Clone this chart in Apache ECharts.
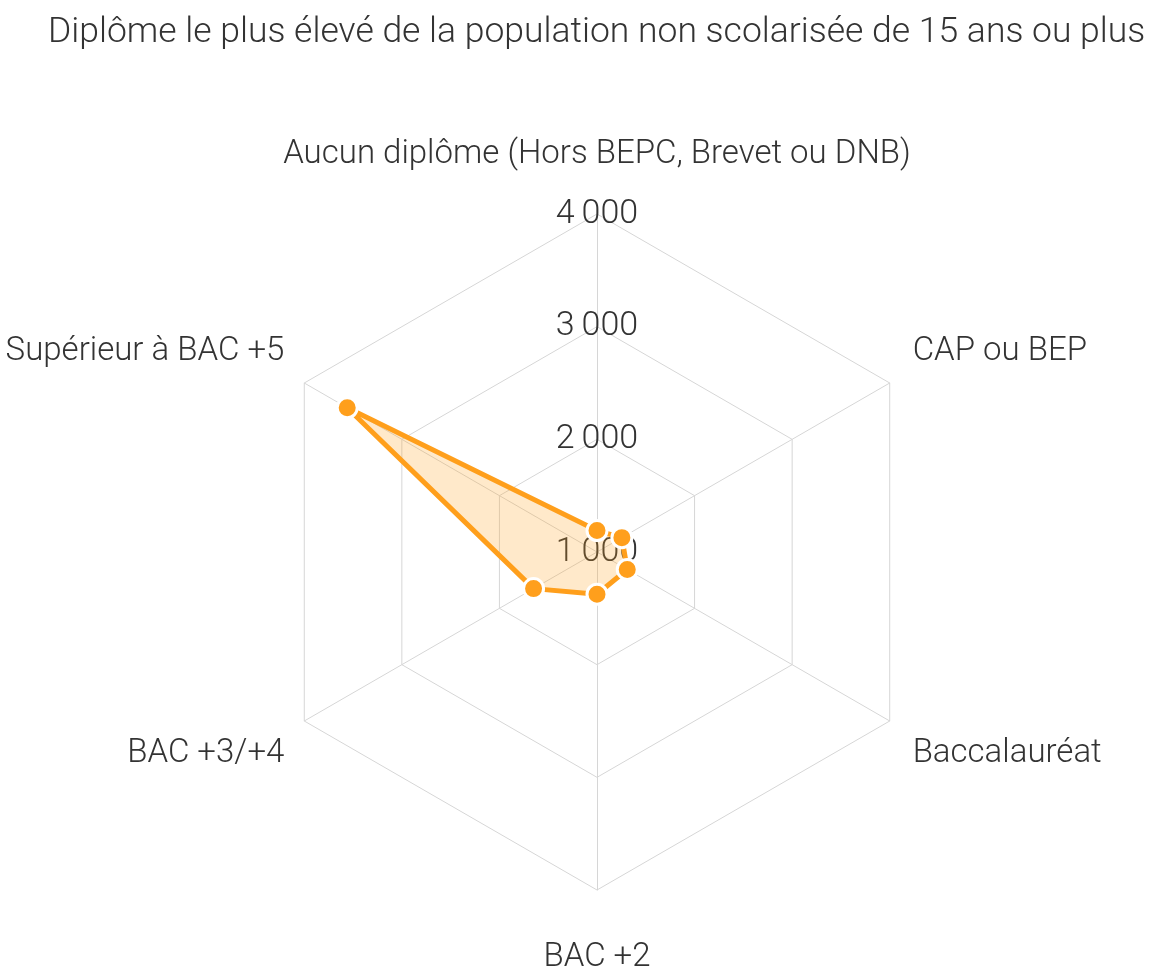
<!DOCTYPE html>
<html lang="fr">
<head>
<meta charset="UTF-8">
<title>Diplôme le plus élevé</title>
<style>
  html, body { margin: 0; padding: 0; background: #fff; }
  #chart { width: 1153px; height: 968px; }
</style>
</head>
<body>
<div id="chart"></div>
<script src="https://cdn.jsdelivr.net/npm/echarts@6.0.0/dist/echarts.min.js"></script>
<script>
// diplômes, dans le sens des aiguilles d'une montre à partir du haut
const diplomes = [
  'Aucun diplôme (Hors BEPC, Brevet ou DNB)',
  'CAP ou BEP',
  'Baccalauréat',
  'BAC +2',
  'BAC +3/+4',
  'Supérieur à BAC +5'
];
// effectifs
const effectifs = [1190, 1255, 1310, 1375, 1650, 3560];
const axeMin = 1000;
const axeMax = 4000;

const orange = '#ff9f1c';
const texte = '#333333';
const police = 'Roboto, "Open Sans", sans-serif';

// echarts tourne dans le sens inverse : on garde le premier et on inverse le reste
const ordre = [0, 5, 4, 3, 2, 1];

// place des noms autour du radar (style rich)
const placeNom = ['haut', 'gauche1', 'gauche2', 'bas', 'droite2', 'droite1'];
const fonte = { color: texte, fontFamily: police, fontSize: 33, fontWeight: 300 };

const chart = echarts.init(document.getElementById('chart'));

const option = {
  animation: false,
  title: {
    text: 'Diplôme le plus élevé de la population non scolarisée de 15 ans ou plus',
    left: 43,
    top: 10,
    textStyle: { color: texte, fontFamily: police, fontSize: 35.5, fontWeight: 300 }
  },
  radar: {
    center: [597, 552],
    radius: 338,
    startAngle: 90,
    shape: 'polygon',
    splitNumber: 3,
    axisNameGap: 23,
    axisName: {
      color: texte, fontFamily: police, fontSize: 33, fontWeight: 300,
      formatter: (nom) => {
        const k = ordre.map(i => diplomes[i]).indexOf(nom);
        return '{' + placeNom[k] + '|' + nom + '}';
      },
      rich: {
        haut: Object.assign({ padding: [0, 0, 20, 0] }, fonte),
        bas: Object.assign({ padding: [28, 0, 0, 0] }, fonte),
        gauche1: Object.assign({ padding: [0, 0, 40, 0] }, fonte),
        gauche2: Object.assign({ padding: [42, 0, 0, 0] }, fonte),
        droite1: Object.assign({ padding: [0, 0, 40, 3] }, fonte),
        droite2: Object.assign({ padding: [42, 0, 0, 3] }, fonte)
      }
    },
    axisLine: { lineStyle: { color: '#d6d6d6', width: 1 } },
    splitLine: { lineStyle: { color: '#d6d6d6', width: 1 } },
    splitArea: { show: false },
    axisTick: { show: false },
    axisLabel: {
      show: false,
      color: texte,
      fontFamily: police,
      fontSize: 34,
      fontWeight: 300,
      margin: 0,
      align: 'center',
      verticalAlign: 'middle',
      formatter: v => String(v).replace(/\B(?=(\d{3})+(?!\d))/g, '\u2009')
    },
    indicator: ordre.map((i, k) => {
      const ind = { name: diplomes[i], min: axeMin, max: axeMax };
      if (k === 0) ind.axisLabel = { show: true };
      return ind;
    })
  },
  series: [{
    type: 'radar',
    symbol: 'circle',
    symbolSize: 20,
    itemStyle: { color: orange, borderColor: '#ffffff', borderWidth: 3 },
    lineStyle: { color: orange, width: 5 },
    areaStyle: { color: 'rgba(255,159,28,0.33)' },
    data: [{ value: ordre.map(i => effectifs[i]), name: 'Population non scolarisée' }]
  }]
};

chart.setOption(option);
</script>
</body>
</html>
